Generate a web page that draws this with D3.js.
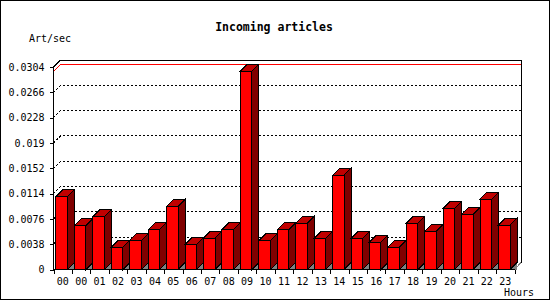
<!DOCTYPE html>
<html>
<head>
<meta charset="utf-8">
<script src="https://cdn.jsdelivr.net/npm/d3@7"></script>
<style>
  body { margin: 0; background: #fff; }
  svg text { font-family: "DejaVu Sans Mono", "Liberation Mono", monospace; fill: #000; }
</style>
</head>
<body>
<div id="chart"></div>
<script>
// hour labels (first one is the previous day's 00)
const hours = ['00', '00', '01', '02', '03', '04', '05', '06', '07', '08', '09', '10', '11',
  '12', '13', '14', '15', '16', '17', '18', '19', '20', '21', '22', '23'];
// articles per second
const rates = [0.01095, 0.0066, 0.00795, 0.00336, 0.00435, 0.0060, 0.0095, 0.00375, 0.0047,
  0.0060, 0.02976, 0.00435, 0.0060, 0.00696, 0.00465, 0.01416, 0.00465, 0.0041, 0.00336,
  0.00696, 0.00576, 0.0092, 0.0083, 0.01056, 0.00666];
const yTicks = [0, 0.0038, 0.0076, 0.0114, 0.0152, 0.019, 0.0228, 0.0266, 0.0304];
const yTickLabels = ['0', '0.0038', '0.0076', '0.0114', '0.0152', '0.019', '0.0228', '0.0266', '0.0304'];

const W = 550, H = 300;
const depth = 7;
const plotL = 53.5, plotR = 514.5, plotB = 269.5, plotT = 67;

const svg = d3.select('#chart').append('svg')
  .attr('width', W)
  .attr('height', H)
  .style('shape-rendering', 'crispEdges');

// outer frame
svg.append('rect')
  .attr('x', 0.5).attr('y', 0.5)
  .attr('width', W - 1.5).attr('height', H - 1.5)
  .attr('fill', '#fff').attr('stroke', '#000');

const idx = d3.range(hours.length);
const x = d3.scaleBand().domain(idx).range([plotL, plotR]);
const xEdge = d3.scaleLinear().domain([0, hours.length]).range([plotL, plotR]);
const y = d3.scaleLinear().domain([0, 0.0304]).range([plotB, plotT]);

// title and axis names
svg.append('text')
  .attr('x', 274).attr('y', 31)
  .attr('text-anchor', 'middle')
  .style('font-size', '11.5px')
  .style('font-weight', 'bold')
  .text('Incoming articles');

svg.append('text')
  .attr('x', 29).attr('y', 41.5)
  .style('font-size', '10px')
  .text('Art/sec');

svg.append('text')
  .attr('x', 504).attr('y', 295.5)
  .style('font-size', '10px')
  .text('Hours');

// back wall: top and right edges, top-left slant
const backR = plotR + depth - 0.5;
svg.append('path')
  .attr('d', `M${plotL},${plotT} L${plotL + depth},${plotT - depth} L${backR},${plotT - depth} L${backR},${plotB - depth}`)
  .attr('fill', 'none').attr('stroke', '#000');

// dotted grid on the back wall and the left side
const grid = yTicks.slice(1, -1);
svg.append('g').selectAll('path')
  .data(grid)
  .enter().append('path')
  .attr('d', d => `M${plotL},${y(d)} L${plotL + depth},${y(d) - depth} L${backR},${y(d) - depth}`)
  .attr('fill', 'none')
  .attr('stroke', '#000')
  .attr('stroke-dasharray', '2,2');

// max line in red
const maxV = d3.max(rates);
svg.append('path')
  .attr('d', `M${plotL},${y(maxV)} L${plotL + depth},${y(maxV) - depth} L${backR},${y(maxV) - depth}`)
  .attr('fill', 'none')
  .attr('stroke', '#ff0000');

// bars, left to right
const bw = x.bandwidth();
const bars = svg.append('g');
idx.forEach(i => {
  const x0 = x(i) + bw * 0.135;
  const x1 = x0 + bw * 0.625;
  const yt = y(rates[i]);
  const g = bars.append('g');
  // floor shadow
  g.append('path')
    .attr('d', `M${x1},${plotB} L${x1 + depth},${plotB - depth} L${x1 + depth},${plotB} Z`)
    .attr('fill', '#808080').attr('stroke', 'none');
  // side
  g.append('path')
    .attr('d', `M${x1},${yt} L${x1 + depth},${yt - depth} L${x1 + depth},${plotB - depth} L${x1},${plotB} Z`)
    .attr('fill', '#800000').attr('stroke', '#000');
  // top
  g.append('path')
    .attr('d', `M${x0},${yt} L${x0 + depth},${yt - depth} L${x1 + depth},${yt - depth} L${x1},${yt} Z`)
    .attr('fill', '#c00000').attr('stroke', '#000');
  // front
  g.append('rect')
    .attr('x', x0).attr('y', yt)
    .attr('width', x1 - x0).attr('height', plotB - yt)
    .attr('fill', '#ff0000').attr('stroke', '#000');
});

// floor end at the right
svg.append('path')
  .attr('d', `M${plotR},${plotB} L${backR},${plotB - depth}`)
  .attr('stroke', '#808080');

// y axis
const yAxis = svg.append('g')
  .attr('transform', `translate(${plotL},0)`)
  .call(d3.axisLeft(y)
    .tickValues(yTicks)
    .tickSize(4)
    .tickPadding(5)
    .tickFormat((d, i) => yTickLabels[i]));
yAxis.select('.domain').remove();
yAxis.selectAll('text').style('font-size', '10px').style('font-family', '"DejaVu Sans Mono", monospace');
svg.append('line')
  .attr('x1', plotL).attr('x2', plotL)
  .attr('y1', plotT).attr('y2', plotB)
  .attr('stroke', '#000');

// x axis: tick marks on band edges, labels in band centres
const xTicks = svg.append('g')
  .attr('transform', `translate(0,${plotB})`)
  .call(d3.axisBottom(xEdge)
    .tickValues(d3.range(hours.length + 1))
    .tickSize(4)
    .tickFormat(''));
xTicks.select('.domain').remove();

const xAxis = svg.append('g')
  .attr('transform', `translate(0,${plotB})`)
  .call(d3.axisBottom(x)
    .tickSize(0)
    .tickPadding(8)
    .tickFormat(i => hours[i]));
xAxis.select('.domain').remove();
xAxis.selectAll('text').style('font-size', '10px').style('font-family', '"DejaVu Sans Mono", monospace');

svg.append('line')
  .attr('x1', plotL).attr('x2', plotR)
  .attr('y1', plotB).attr('y2', plotB)
  .attr('stroke', '#000');
</script>
</body>
</html>
